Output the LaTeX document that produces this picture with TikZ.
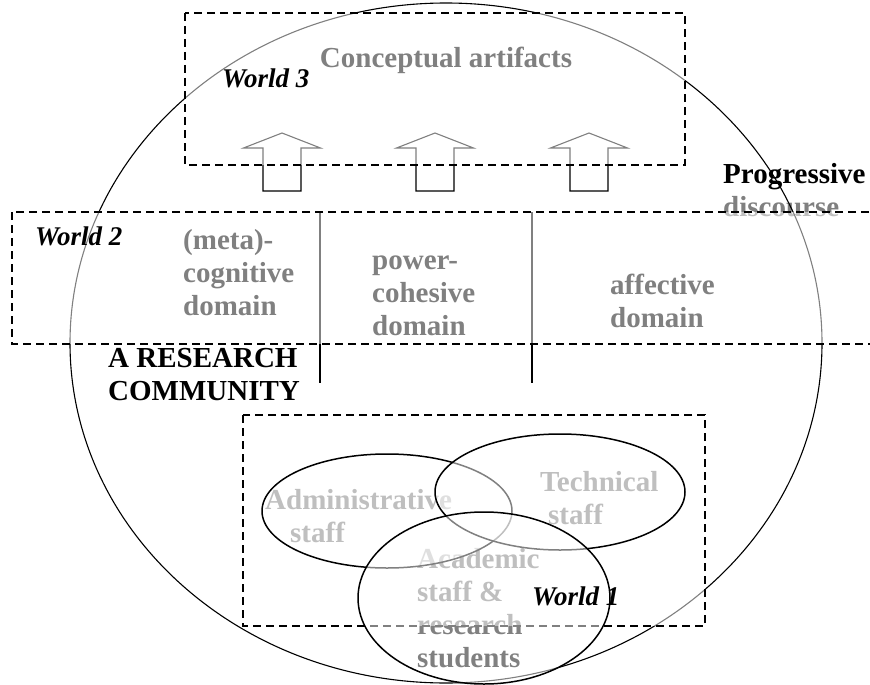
\documentclass[tikz,border=0pt]{standalone}
\usepackage{fontspec}
\setmainfont{Liberation Serif}
\tikzset{
    %Define style for texts
    txt/.style={
           font=\fontsize{29}{33}\selectfont\bfseries,
           align=left,
           inner sep=0pt,
           text=black},
    worldlbl/.style={
           font=\fontsize{27}{33}\selectfont\bfseries\itshape,
           inner sep=0pt,
           text=black},
    % Define style for the layers
    worldbox/.style={
           draw=black,
           line width=1.4pt,
           dash pattern=on 8pt off 5pt,
           fill=white, fill opacity=0.5},
    staffset/.style={
           draw=black,
           line width=1.5pt,
           fill=white, fill opacity=0.5},
    community/.style={draw=black, line width=1.1pt},
    blockarrow/.style={draw=black, line width=1.1pt},
    divider/.style={draw=black, line width=1.1pt}
}
\begin{document}
\begin{tikzpicture}[x=1pt,y=-1pt]
\useasboundingbox (0,0) rectangle (870,685);
% texts below the layers (base = last line)
\node[txt, anchor=base] (concept) at (446,67) {Conceptual artifacts};
\node[txt, anchor=base west] (cog) at (183,315) {(meta)-\\cognitive\\domain};
\node[txt, anchor=base west] (pow) at (372,335) {power-\\cohesive\\domain};
\node[txt, anchor=base west] (aff) at (610,327) {affective\\domain};
\node[txt, anchor=base west] (admin) at (265,542) {Administrative\\\hspace*{25pt}staff};
\node[txt, anchor=base west] (tech) at (540,524) {Technical\\\hspace*{8pt}staff};
\node[txt, anchor=base west] (acad) at (417,667) {Academic\\staff \&\\research\\students};
\node[txt, anchor=base west] (prog) at (723,216) {Progressive\\\textcolor{gray}{discourse}};

\draw[community] (446,343) ellipse [x radius=376pt, y radius=340pt];
\foreach \x in {282,435,589}
    \draw[blockarrow] (\x-19,191) -- (\x-19,148) -- (\x-38.5,148) -- (\x,133)
        -- (\x+38.5,148) -- (\x+19,148) -- (\x+19,191) -- cycle;
\draw[divider] (320,212) -- (320,383);
\draw[divider] (532,212) -- (532,383);

% the three worlds
\draw[worldbox] (185,13) rectangle (685,165);
\draw[worldbox] (12,212) rectangle (900,344);
\draw[worldbox] (243,415) rectangle (705,626);
\draw[staffset] (387,511) ellipse [x radius=125pt, y radius=57pt];
\draw[staffset] (560,492) ellipse [x radius=125pt, y radius=58pt];
\draw[staffset] (484,598) ellipse [x radius=126pt, y radius=86pt];

\node[worldlbl, anchor=base west] (w3) at (222,88) {World 3};
\node[worldlbl, anchor=base west] (w2) at (35,245) {World 2};
\node[worldlbl, anchor=base west] (w1) at (532,605) {World 1};
\node[txt, anchor=base west] (rc) at (108,400) {A RESEARCH\\COMMUNITY};
\end{tikzpicture}
\end{document}
